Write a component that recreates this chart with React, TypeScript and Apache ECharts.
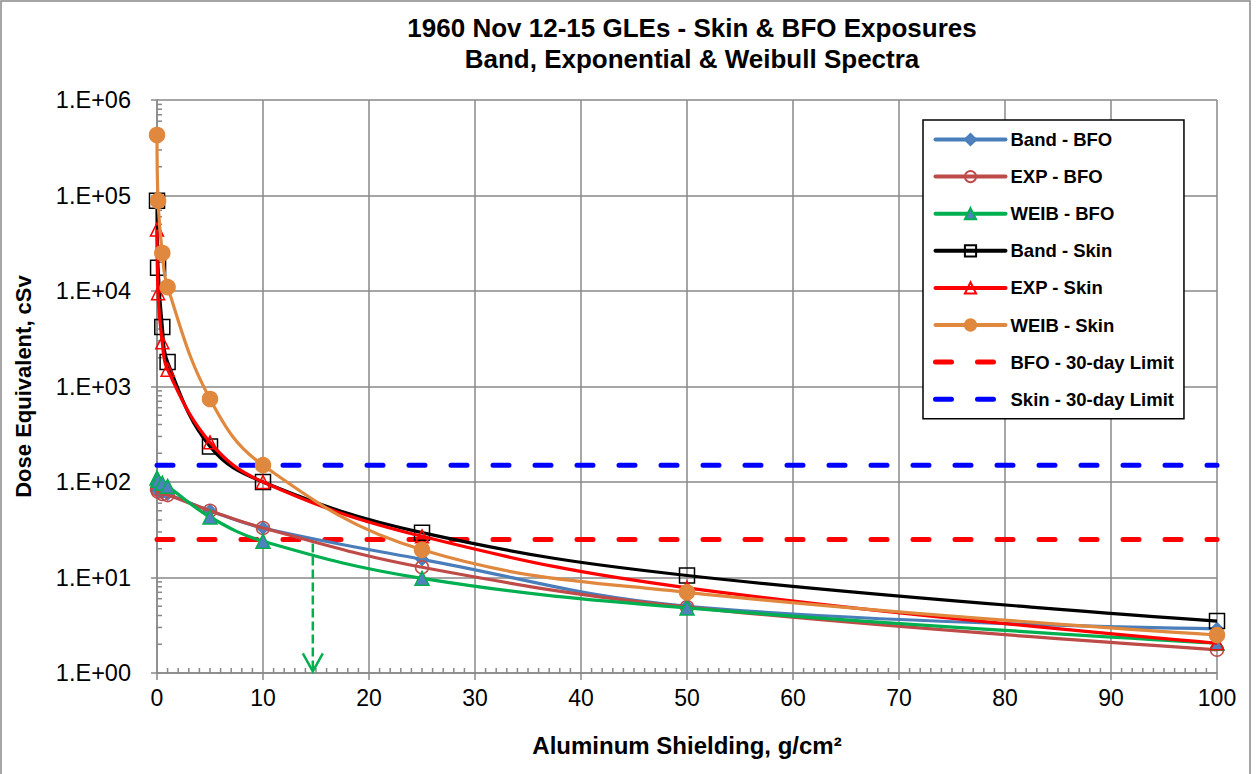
import React, { useEffect, useRef } from "react";
import * as echarts from "echarts";

// Aluminum shielding depths, g/cm2
const shielding = [0, 0.1, 0.5, 1, 5, 10, 25, 50, 100];
// Dose equivalents, cSv
const bandBFO = [85, 80, 77, 75, 50, 33, 15.5, 5.0, 2.9];
const expBFO = [84, 79, 75, 73, 50, 33, 12.8, 4.9, 1.75];
const weibBFO = [110, 104, 97, 90, 43, 24, 9.8, 4.8, 2.05];
const bandSkin = [88000, 17500, 4200, 1800, 235, 100, 29.5, 10.5, 3.5];
const expSkin = [44000, 9500, 2900, 1500, 260, 100, 27, 7.8, 2.05];
const weibSkin = [430000, 88000, 25000, 11000, 740, 150, 19.5, 7.0, 2.5];
// 30-day limits, cSv
const limitRange = [0, 100];
const bfoLimit = 25;
const skinLimit = 150;
// Arrow marking the BFO limit crossing
const arrowX = 14.7;
const arrowTop = 25;
const arrowBottom = 1.04;

const yDecades = [1, 10, 100, 1000, 10000, 100000];
const yMinorMults = [2, 3, 4, 5, 6, 7, 8, 9];
const xMinorSteps = Array.from({ length: 101 }, (_, i) => i).filter((v) => v % 10 !== 0);

const FONT = "Arial, 'Liberation Sans', sans-serif";
const GRID_COLOR = "#888888";

const pair = (ys: number[]) => shielding.map((x, i) => [x, ys[i]]);

export default function App() {
  const ref = useRef<HTMLDivElement>(null);
  useEffect(() => {
    if (!ref.current) return;
    const chart = echarts.init(ref.current, null, { renderer: "svg" });

    const lineSeries = (
      name: string,
      ys: number[],
      color: string,
      symbol: string,
      size: number,
      fill: string,
      border: string,
      z: number
    ) => ({
      name,
      type: "line",
      data: pair(ys),
      smooth: 0.4,
      symbol,
      symbolSize: size,
      showAllSymbol: true,
      lineStyle: { color, width: 3.2 },
      itemStyle: { color: fill, borderColor: border, borderWidth: 1.5 },
      color,
      z,
      emphasis: { disabled: true },
    });

    const yMinorData: number[][] = [];
    yDecades.forEach((d) => yMinorMults.forEach((m) => yMinorData.push([0, d * m])));

    const legendNames = [
      "Band - BFO",
      "EXP - BFO",
      "WEIB - BFO",
      "Band - Skin",
      "EXP - Skin",
      "WEIB - Skin",
      "BFO - 30-day Limit",
      "Skin - 30-day Limit",
    ];

    const option: any = {
      animation: false,
      title: {
        text: "1960 Nov 12-15 GLEs - Skin & BFO Exposures\nBand, Exponential & Weibull Spectra",
        left: 687,
        top: 7,
        textAlign: "center",
        textStyle: { fontFamily: FONT, fontSize: 26, fontWeight: "bold", color: "#000", lineHeight: 31 },
      },
      graphic: [
        {
          type: "rect",
          shape: { x: 1, y: 1, width: 1249, height: 790 },
          style: { fill: "none", stroke: "#888", lineWidth: 1.5 },
          silent: true,
          z: -1,
        },
      ],
      legend: {
        data: legendNames.map((n, i) =>
          i >= 6
            ? { name: n, itemStyle: { opacity: 0 }, lineStyle: { width: 5, type: [16, 26], cap: "round" } }
            : { name: n }
        ),
        orient: "vertical",
        left: 923,
        top: 120,
        padding: [10, 10, 10, 10],
        itemWidth: 70,
        itemHeight: 14,
        itemGap: 18.1,
        borderColor: "#000",
        borderWidth: 1.5,
        backgroundColor: "#fff",
        lineStyle: { width: 4, cap: "round" },
        textStyle: { fontFamily: FONT, fontSize: 18.5, fontWeight: "bold", color: "#000" },
        selectedMode: false,
      },
      grid: { left: 157, right: 40, top: 100, bottom: 101 },
      xAxis: {
        type: "value",
        min: 0,
        max: 100,
        interval: 10,
        name: "Aluminum Shielding, g/cm²",
        nameLocation: "middle",
        nameGap: 60,
        nameTextStyle: { fontFamily: FONT, fontSize: 24, fontWeight: "bold", color: "#000" },
        axisLine: { show: true, lineStyle: { color: GRID_COLOR, width: 1.5 } },
        axisTick: { show: true, length: 7, lineStyle: { color: GRID_COLOR, width: 1.5 } },
        axisLabel: { fontFamily: FONT, fontSize: 23, color: "#000", margin: 13 },
        splitLine: { show: true, lineStyle: { color: GRID_COLOR, width: 1.5 } },
      },
      yAxis: {
        type: "log",
        logBase: 10,
        min: 1,
        max: 1000000,
        interval: 1,
        name: "Dose Equivalent, cSv",
        nameLocation: "middle",
        nameGap: 123,
        nameTextStyle: { fontFamily: FONT, fontSize: 22, fontWeight: "bold", color: "#000" },
        axisLine: { show: true, lineStyle: { color: GRID_COLOR, width: 1.5 } },
        axisTick: { show: true, length: 6, lineStyle: { color: GRID_COLOR, width: 1.5 } },
        axisLabel: {
          fontFamily: FONT,
          fontSize: 23.5,
          color: "#000",
          margin: 26,
          formatter: (v: number) => "1.E+" + String(Math.round(Math.log10(v))).padStart(2, "0"),
        },
        splitLine: { show: true, lineStyle: { color: GRID_COLOR, width: 1.5 } },
      },
      series: [
        {
          name: "yMinor",
          type: "custom",
          silent: true,
          clip: false,
          data: yMinorData,
          encode: { x: 0, y: 1 },
          renderItem: (params: any, api: any) => {
            const p = api.coord([api.value(0), api.value(1)]);
            return {
              type: "line",
              shape: { x1: p[0], y1: p[1], x2: p[0] + 5, y2: p[1] },
              style: { stroke: GRID_COLOR, lineWidth: 1.5 },
            };
          },
          z: 1,
        },
        {
          name: "xMinor",
          type: "custom",
          silent: true,
          clip: false,
          data: xMinorSteps.map((v) => [v, 1]),
          encode: { x: 0, y: 1 },
          renderItem: (params: any, api: any) => {
            const p = api.coord([api.value(0), api.value(1)]);
            return {
              type: "line",
              shape: { x1: p[0], y1: p[1], x2: p[0], y2: p[1] - 5 },
              style: { stroke: GRID_COLOR, lineWidth: 1.5 },
            };
          },
          z: 1,
        },
        {
          name: "BFO - 30-day Limit",
          type: "line",
          data: limitRange.map((x) => [x, bfoLimit]),
          symbol: "none",
          color: "#FF0000",
          lineStyle: { color: "#FF0000", width: 5, type: [16, 26], cap: "round" },
          z: 2,
        },
        {
          name: "Skin - 30-day Limit",
          type: "line",
          data: limitRange.map((x) => [x, skinLimit]),
          symbol: "none",
          color: "#0000FF",
          lineStyle: { color: "#0000FF", width: 5, type: [16, 26], cap: "round" },
          z: 2,
        },
        {
          name: "arrow",
          type: "custom",
          silent: true,
          clip: false,
          data: [[arrowX, arrowTop, arrowBottom]],
          encode: { x: 0, y: [1, 2] },
          renderItem: (params: any, api: any) => {
            const t = api.coord([api.value(0), api.value(1)]);
            const b = api.coord([api.value(0), api.value(2)]);
            return {
              type: "group",
              children: [
                {
                  type: "line",
                  shape: { x1: t[0], y1: t[1] + 4, x2: b[0], y2: b[1] - 2 },
                  style: { stroke: "#00B050", lineWidth: 2.5, lineDash: [9, 4] },
                },
                {
                  type: "polyline",
                  shape: { points: [[b[0] - 10, b[1] - 18], [b[0], b[1]], [b[0] + 10, b[1] - 18]] },
                  style: { stroke: "#00B050", lineWidth: 2.5, fill: "none" },
                },
              ],
            };
          },
          z: 3,
        },
        lineSeries("Band - BFO", bandBFO, "#4A7EBB", "diamond", 12, "#4F81BD", "#4A7EBB", 4),
        lineSeries("EXP - BFO", expBFO, "#BE4B48", "circle", 13, "rgba(255,255,255,0)", "#BE4B48", 5),
        lineSeries("WEIB - BFO", weibBFO, "#00B050", "triangle", 14, "#4F81BD", "#00B050", 6),
        lineSeries("Band - Skin", bandSkin, "#000000", "rect", 15, "rgba(255,255,255,0)", "#000000", 7),
        lineSeries("EXP - Skin", expSkin, "#FF0000", "triangle", 13, "rgba(255,255,255,0)", "#FF0000", 8),
        lineSeries("WEIB - Skin", weibSkin, "#E0883E", "circle", 15, "#E0883E", "#E0883E", 9),
      ],
    };
    chart.setOption(option);
    return () => chart.dispose();
  }, []);

  return (
    <div
      ref={ref}
      style={{ position: "fixed", left: 0, top: 0, width: 1257, height: 774, background: "#fff" }}
    />
  );
}
